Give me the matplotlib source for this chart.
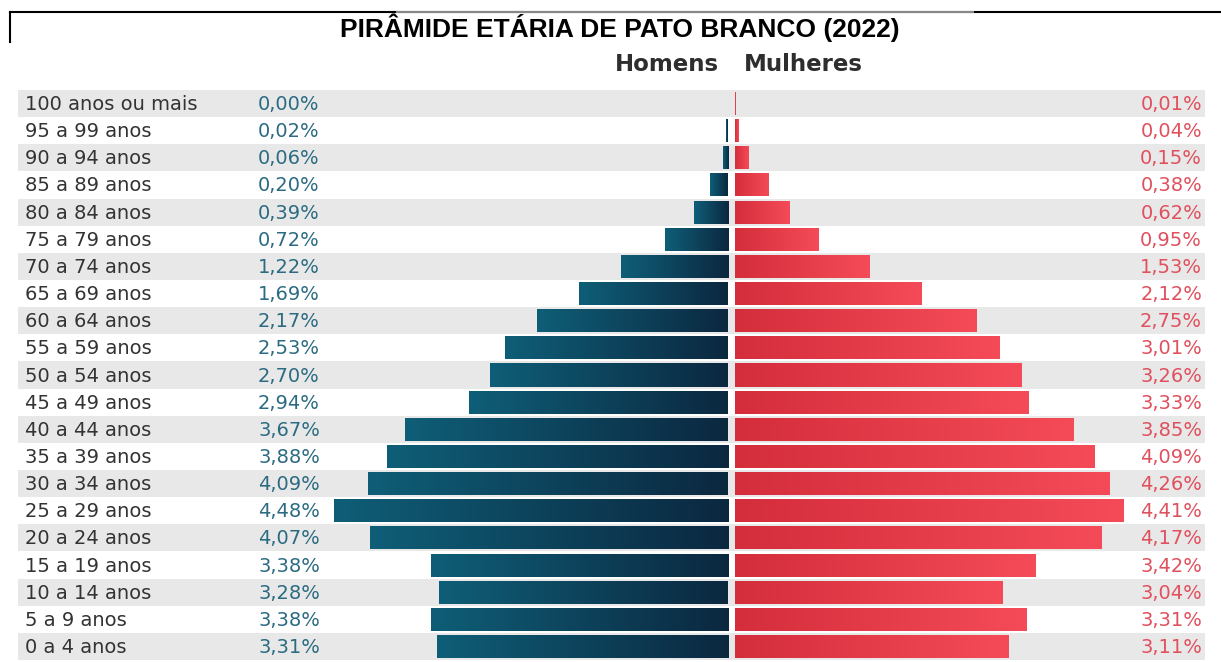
import numpy as np
import matplotlib
matplotlib.use("Agg")
import matplotlib.pyplot as plt
from matplotlib.colors import LinearSegmentedColormap
from matplotlib.lines import Line2D

# data (top row = oldest group)
faixas = ["100 anos ou mais", "95 a 99 anos", "90 a 94 anos", "85 a 89 anos",
          "80 a 84 anos", "75 a 79 anos", "70 a 74 anos", "65 a 69 anos",
          "60 a 64 anos", "55 a 59 anos", "50 a 54 anos", "45 a 49 anos",
          "40 a 44 anos", "35 a 39 anos", "30 a 34 anos", "25 a 29 anos",
          "20 a 24 anos", "15 a 19 anos", "10 a 14 anos", "5 a 9 anos", "0 a 4 anos"]
homens = [0.00, 0.02, 0.06, 0.20, 0.39, 0.72, 1.22, 1.69, 2.17, 2.53, 2.70,
          2.94, 3.67, 3.88, 4.09, 4.48, 4.07, 3.38, 3.28, 3.38, 3.31]
mulheres = [0.01, 0.04, 0.15, 0.38, 0.62, 0.95, 1.53, 2.12, 2.75, 3.01, 3.26,
            3.33, 3.85, 4.09, 4.26, 4.41, 4.17, 3.42, 3.04, 3.31, 3.11]

W, H = 1221, 662
px_per_pct = 88.0
cx = 731.5          # pixel of the center divider
y0, dy = 103.5, 27.15  # pixel of first row and row step


def xd(px):  # pixel -> data (percent)
    return (px - cx) / px_per_pct


def yd(py):  # pixel -> data (row)
    return (py - y0) / dy


fig = plt.figure(figsize=(W / 100, H / 100), dpi=100)
ax = fig.add_axes([0, 0, 1, 1])
ax.set_xlim(xd(0), xd(W))
ax.set_ylim(yd(H), yd(0))
ax.axis("off")

lab_font = "DejaVu Sans"
n = len(faixas)
rows = np.arange(n)
gap = 3.5 / px_per_pct
bh = 0.85

# alternating grey bands
for i in rows:
    if i % 2 == 0:
        ax.fill_between([xd(18), xd(1205)], i - 0.5, i + 0.5, color="#e8e8e8", lw=0, zorder=0)

cm_h = LinearSegmentedColormap.from_list("h", ["#0f5e77", "#0b2840"])
cm_m = LinearSegmentedColormap.from_list("m", ["#d42d3b", "#f54b58"])
grad = np.linspace(0, 1, 256).reshape(1, -1)

bars_h = ax.barh(rows, [-v for v in homens], left=-gap, height=bh, color="none", lw=0, zorder=2)
bars_m = ax.barh(rows, mulheres, left=gap, height=bh, color="none", lw=0, zorder=2)

# gradient fill clipped to each bar
for b in list(bars_h) + list(bars_m):
    x, y = b.get_x(), b.get_y()
    w, h = b.get_width(), b.get_height()
    if abs(w) < 1e-6:
        continue
    cm = cm_h if w < 0 else cm_m
    xa, xb = (x + w, x) if w < 0 else (x, x + w)
    im = ax.imshow(grad, extent=[xa, xb, y + h, y], cmap=cm, aspect="auto", zorder=2,
                   interpolation="bilinear")
    im.set_clip_path(b)

ax.set_xlim(xd(0), xd(W))
ax.set_ylim(yd(H), yd(0))

base = 6.5 / dy  # baseline offset below row center
for i in rows:
    ax.text(xd(25), i + base, faixas[i], ha="left", va="baseline", fontsize=14,
            color="#333333", family=lab_font)
    ax.text(xd(258), i + base, f"{homens[i]:.2f}%".replace(".", ","), ha="left", va="baseline",
            fontsize=14, color="#2b6b82", family=lab_font)
    ax.text(xd(1202), i + base, f"{mulheres[i]:.2f}%".replace(".", ","), ha="right", va="baseline",
            fontsize=14, color="#e0505d", family=lab_font)

# header
ax.text(xd(615), yd(71), "Homens", ha="left", va="baseline", fontsize=16.5,
        color="#2e2e2e", family=lab_font, fontweight="bold")
ax.text(xd(744), yd(71), "Mulheres", ha="left", va="baseline", fontsize=16.5,
        color="#2e2e2e", family=lab_font, fontweight="bold")

# title and frame lines
fig.text(620 / W, 1 - 37 / H, "PIRÂMIDE ETÁRIA DE PATO BRANCO (2022)", ha="center",
         va="baseline", fontsize=19, fontweight="bold", family="Liberation Sans", color="black")
fig.add_artist(Line2D([10 / W, 1], [1 - 12 / H, 1 - 12 / H], color="black", lw=1.5))
fig.add_artist(Line2D([397 / W, 973 / W], [1 - 12 / H, 1 - 12 / H], color="#888888", lw=1.5))
fig.add_artist(Line2D([10 / W, 10 / W], [1 - 12 / H, 1 - 42 / H], color="black", lw=1.5))

fig.savefig("out.png", dpi=100, facecolor="white")
